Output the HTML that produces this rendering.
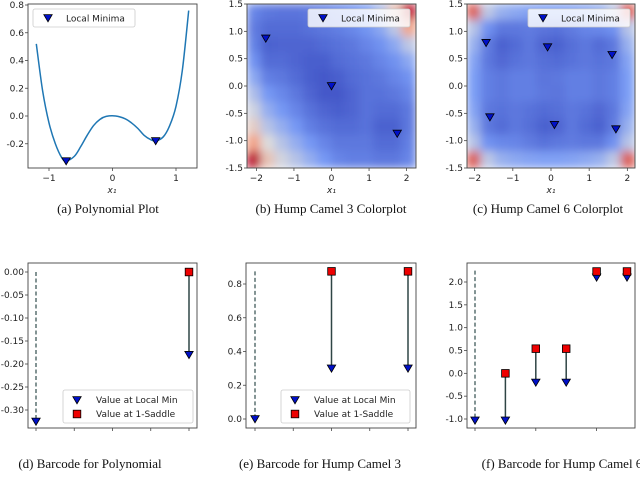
<!DOCTYPE html>
<html><head><meta charset="utf-8">
<style>
body{margin:0;background:#fff;width:640px;height:477px;overflow:hidden}
svg{display:block}
text{font-family:"DejaVu Sans","Liberation Sans",sans-serif;font-size:9px;fill:#222}
.cap{font-family:"Liberation Serif",serif;font-size:13px;fill:#111}
</style></head>
<body>
<svg id="fig" width="640" height="477" viewBox="0 0 640 477" xmlns="http://www.w3.org/2000/svg">
<defs>
<filter id="blur" x="0" y="0" width="1" height="1"><feGaussianBlur stdDeviation="4.5" edgeMode="duplicate"/></filter>
<clipPath id="clipB"><rect x="247" y="4" width="169" height="164"/></clipPath>
<clipPath id="clipC"><rect x="467" y="4" width="168" height="164"/></clipPath>
</defs>
</svg>
<script>
// ---- Data ----
const polyX = [-1.2,-1.1,-1.0,-0.9,-0.8,-0.73,-0.6,-0.5,-0.4,-0.3,-0.2,-0.1,0.05,0.2,0.3,0.4,0.5,0.6,0.68,0.8,0.9,1.0,1.1,1.2];
const polyY = [0.52,0.18,-0.05,-0.20,-0.30,-0.325,-0.29,-0.22,-0.14,-0.07,-0.025,-0.003,0.0,-0.02,-0.05,-0.09,-0.14,-0.17,-0.18,-0.15,-0.07,0.07,0.33,0.76];
const polyMinX = [-0.73,0.68];
const polyMinY = [-0.325,-0.18];
const camel3Grid = [
[0.18,0.14,0.13,0.13,0.14,0.16,0.19,0.22,0.27,0.38,0.6,0.95],
[0.15,0.1,0.1,0.1,0.12,0.14,0.16,0.19,0.23,0.3,0.42,0.7],
[0.17,0.07,0.08,0.08,0.08,0.1,0.12,0.14,0.18,0.22,0.3,0.42],
[0.22,0.1,0.1,0.08,0.06,0.06,0.1,0.12,0.14,0.18,0.22,0.3],
[0.3,0.16,0.14,0.1,0.06,0.04,0.06,0.1,0.12,0.14,0.18,0.22],
[0.38,0.24,0.19,0.14,0.08,0.04,0.04,0.08,0.12,0.12,0.14,0.18],
[0.46,0.32,0.24,0.18,0.12,0.08,0.06,0.08,0.12,0.1,0.1,0.14],
[0.56,0.4,0.32,0.24,0.16,0.12,0.1,0.1,0.12,0.07,0.07,0.14],
[0.72,0.5,0.4,0.32,0.24,0.18,0.14,0.14,0.14,0.1,0.1,0.16],
[0.97,0.6,0.47,0.4,0.32,0.24,0.18,0.16,0.16,0.14,0.14,0.18]];
const camel6Grid = [
[0.85,0.42,0.33,0.3,0.28,0.27,0.27,0.28,0.3,0.33,0.42,0.85],
[0.4,0.22,0.14,0.14,0.15,0.13,0.12,0.15,0.18,0.19,0.22,0.4],
[0.33,0.15,0.07,0.1,0.14,0.08,0.07,0.11,0.14,0.1,0.14,0.33],
[0.28,0.14,0.09,0.12,0.14,0.11,0.1,0.12,0.14,0.12,0.14,0.28],
[0.26,0.16,0.14,0.16,0.16,0.13,0.14,0.16,0.16,0.14,0.16,0.26],
[0.26,0.16,0.14,0.16,0.16,0.14,0.13,0.16,0.16,0.14,0.16,0.26],
[0.28,0.14,0.12,0.14,0.12,0.1,0.11,0.14,0.12,0.09,0.14,0.28],
[0.33,0.14,0.1,0.14,0.11,0.07,0.08,0.14,0.1,0.07,0.15,0.33],
[0.4,0.22,0.19,0.18,0.15,0.12,0.14,0.15,0.14,0.14,0.22,0.4],
[0.85,0.42,0.33,0.3,0.28,0.27,0.27,0.28,0.3,0.33,0.42,0.85]];
const camel3MinX = [-1.75,0,1.75];
const camel3MinY = [0.87,0,-0.87];
const camel6MinX = [-1.7,-0.09,1.6,-1.6,0.09,1.7];
const camel6MinY = [0.79,0.71,0.57,-0.57,-0.71,-0.79];
const barPolyMin = [-0.325,null,null,null,-0.18];
const barPolySad = [0.0,null,null,null,0.0];
const barC3Min = [0.0,null,0.3,null,0.3];
const barC3Sad = [0.875,null,0.875,null,0.875];
const barC6Min = [-1.03,-1.03,-0.2,-0.2,2.1,2.1];
const barC6Sad = [2.25,0.0,0.54,0.54,2.23,2.23];
const infiniteBar = [0];
const tickA_X = [-1,0,1], tickA_Y = [-0.2,0.0,0.2,0.4,0.6,0.8];
const tickCam_X = [-2,-1,0,1,2], tickCam_Y = [-1.5,-1.0,-0.5,0.0,0.5,1.0,1.5];
const tickD_Y = [0.0,-0.05,-0.1,-0.15,-0.2,-0.25,-0.3];
const tickE_Y = [0.0,0.2,0.4,0.6,0.8];
const tickF_Y = [-1.0,-0.5,0.0,0.5,1.0,1.5,2.0];

const NS="http://www.w3.org/2000/svg";
const fig=document.getElementById('fig');
function mk(tag,attrs,parent){const e=document.createElementNS(NS,tag);for(const k in attrs)e.setAttribute(k,attrs[k]);(parent||fig).appendChild(e);return e;}
function lin(d0,d1,r0,r1){return v=>r0+(v-d0)*(r1-r0)/(d1-d0);}
function fmt(v,d){return v.toFixed(d);}
function cmap(t){const st=[[0,[59,76,192]],[0.25,[120,155,246]],[0.5,[221,220,220]],[0.75,[244,154,123]],[1,[180,4,38]]];
 for(let i=0;i<st.length-1;i++){if(t<=st[i+1][0]){const f=(t-st[i][0])/(st[i+1][0]-st[i][0]);const a=st[i][1],b=st[i+1][1];return 'rgb('+a.map((c,j)=>Math.round(c+(b[j]-c)*f)).join(',')+')';}}return 'rgb(180,4,38)';}
function tri(x,y,g,name){const s=4.2;const p=mk('path',{d:`M${x-s},${y-s*0.8}L${x+s},${y-s*0.8}L${x},${y+s*0.9}Z`,fill:'#0010c8',stroke:'#000','stroke-width':0.8},g);
 
 return p;}
function sq(x,y,g,name){const p=mk('rect',{x:x-3.8,y:y-3.8,width:7.6,height:7.6,fill:'#ee0000',stroke:'#000','stroke-width':0.8},g);
 
 return p;}
function frame(g,x0,y0,x1,y1){const r=mk('rect',{x:x0,y:y0,width:x1-x0,height:y1-y0,fill:'none',stroke:'#444','stroke-width':0.9},g);
 
 }
function yticks(g,ticks,ys,x0,dec){ticks.forEach(v=>{const y=ys(v);mk('line',{x1:x0-3,x2:x0,y1:y,y2:y,stroke:'#444','stroke-width':0.8},g);
 const t=mk('text',{x:x0-4,y:y+3,'text-anchor':'end'},g);t.textContent=fmt(v,dec);
 
 });}
function xticks(g,ticks,xs,y0,lab){ticks.forEach(v=>{const x=xs(v);mk('line',{x1:x,x2:x,y1:y0,y2:y0+3,stroke:'#444','stroke-width':0.8},g);
 if(lab){const t=mk('text',{x:x,y:y0+13,'text-anchor':'middle'},g);t.textContent=(v<0?'\u2212':'')+Math.abs(v);
 
 }});}
function group(name){const g=mk('g',{});return g;}
function caption(x,txt,y,name){const t=mk('text',{x:x,y:y,'text-anchor':'middle',class:'cap'});t.textContent=txt;
 
 }
function xlabel(g,x,y){const t=mk('text',{x:x,y:y,'text-anchor':'middle','font-style':'italic','font-size':'7'},g);t.textContent='x\u2081';
 
 }
function legendMin(g,x,y,w,name){const b=mk('rect',{x:x,y:y,width:w,height:18,rx:2,fill:'rgba(255,255,255,0.82)',stroke:'#ccc','stroke-width':0.8},g);
 
 
 tri(x+15,y+9,g,'legend-marker-local-minima');const t=mk('text',{x:x+33,y:y+12.5},g);t.textContent='Local Minima';
 
 }
function legendBar(g,x,y,w){const b=mk('rect',{x:x,y:y,width:w,height:33,rx:2,fill:'#fff',stroke:'#ccc','stroke-width':0.8},g);
 
 
 tri(x+14,y+10,g,'legend-marker-local-min');sq(x+14,y+24,g,'legend-marker-saddle');
 const t1=mk('text',{x:x+33,y:y+13},g);t1.textContent='Value at Local Min';
 
 
 const t2=mk('text',{x:x+33,y:y+27},g);t2.textContent='Value at 1-Saddle';
 
 }

// ---- (a) polynomial ----
(function(){const g=group('polynomial-plot');const xs=lin(-1,1,49,176),ys=lin(0,0.8,116,5);
 let pts=polyX.map((x,i)=>[xs(x),ys(polyY[i])]);
 let d='M'+pts[0][0]+','+pts[0][1];
 for(let i=0;i<pts.length-1;i++){const p0=pts[Math.max(0,i-1)],p1=pts[i],p2=pts[i+1],p3=pts[Math.min(pts.length-1,i+2)];
  d+=`C${p1[0]+(p2[0]-p0[0])/6},${p1[1]+(p2[1]-p0[1])/6} ${p2[0]-(p3[0]-p1[0])/6},${p2[1]-(p3[1]-p1[1])/6} ${p2[0]},${p2[1]}`;}
 const c=mk('path',{d:d,fill:'none',stroke:'#1f77b4','stroke-width':1.5},g);
 
 
 polyMinX.forEach((x,i)=>tri(xs(x),ys(polyMinY[i]),g,'local-minimum-marker'));
 frame(g,28,4,197,168);yticks(g,tickA_Y,ys,28,1);xticks(g,tickA_X,xs,168,true);
 legendMin(g,33,9,102,'legend');xlabel(g,112,193);
 caption(108,'(a) Polynomial Plot',213,'caption-a');})();

// ---- heatmaps ----
function heat(grid,clip,x0,y0,x1,y1,xr,minX,minY,name,legX,legW,cap,capX,capName){
 const g=group(name);const cg=mk('g',{'clip-path':'url(#'+clip+')'},g);const hg=mk('g',{filter:'url(#blur)'},cg);
 const nr=grid.length,nc=grid[0].length,cw=(x1-x0)/nc,ch=(y1-y0)/nr;
 grid.forEach((row,r)=>row.forEach((v,c)=>{const rc=mk('rect',{x:x0+c*cw-0.5,y:y0+r*ch-0.5,width:cw+1,height:ch+1,fill:cmap(v)},hg);
  
  }));
 const xs=lin(-xr,xr,x0,x1),ys=lin(-1.5,1.5,y1,y0);
 minX.forEach((x,i)=>tri(xs(x),ys(minY[i]),g,'local-minimum-marker'));
 frame(g,x0,y0,x1,y1);yticks(g,tickCam_Y,ys,x0,1);xticks(g,tickCam_X,xs,y1,true);
 legendMin(g,legX,9,legW,'legend');xlabel(g,(x0+x1)/2,193);caption(capX,cap,213,capName);}
heat(camel3Grid,'clipB',247,4,416,168,2.25,camel3MinX,camel3MinY,'hump-camel-3-colorplot',308,102,'(b) Hump Camel 3 Colorplot',331,'caption-b');
heat(camel6Grid,'clipC',467,4,635,168,2.2,camel6MinX,camel6MinY,'hump-camel-6-colorplot',528,102,'(c) Hump Camel 6 Colorplot',548,'caption-c');

// ---- barcodes ----
function barcode(name,x0,x1,xs,ys,mins,sads,ticks,tickVals,dec,leg,cap,capX,capName){
 const g=group(name);
 mins.forEach((m,i)=>{if(m===null)return;const x=xs(i);const inf=infiniteBar.includes(i);
  const l=mk('line',{x1:x,x2:x,y1:ys(sads[i]),y2:ys(m),stroke:inf?'#5a7070':'#2f4545','stroke-width':1.5,'stroke-dasharray':inf?'4,2.5':'none'},g);
  
  
  tri(x,ys(m),g,'bar-min-marker');
  if(!inf)sq(x,ys(sads[i]),g,'bar-saddle-marker');});
 frame(g,x0,263,x1,428);yticks(g,tickVals,ys,x0,dec);xticks(g,ticks,xs,428,false);
 if(leg)legendBar(g,leg[0],390,leg[1]);caption(capX,cap,468,capName);}
barcode('barcode-polynomial',28,197,lin(0,4,36,189),lin(0,-0.3,272,410),barPolyMin,barPolySad,[0,1,2,3,4],tickD_Y,2,[63,130],'(d) Barcode for Polynomial',90,'caption-d');
barcode('barcode-hump-camel-3',246,416,lin(0,4,255,408),lin(0,0.8,419,284),barC3Min,barC3Sad,[0,1,2,3,4],tickE_Y,1,[281,129],'(e) Barcode for Hump Camel 3',320,'caption-e');
barcode('barcode-hump-camel-6',467,635,lin(0,5,475,627),lin(-1,2,419,282),barC6Min,barC6Sad,[0,2,4],tickF_Y,1,null,'(f) Barcode for Hump Camel 6',562,'caption-f');
</script>
</body></html>
